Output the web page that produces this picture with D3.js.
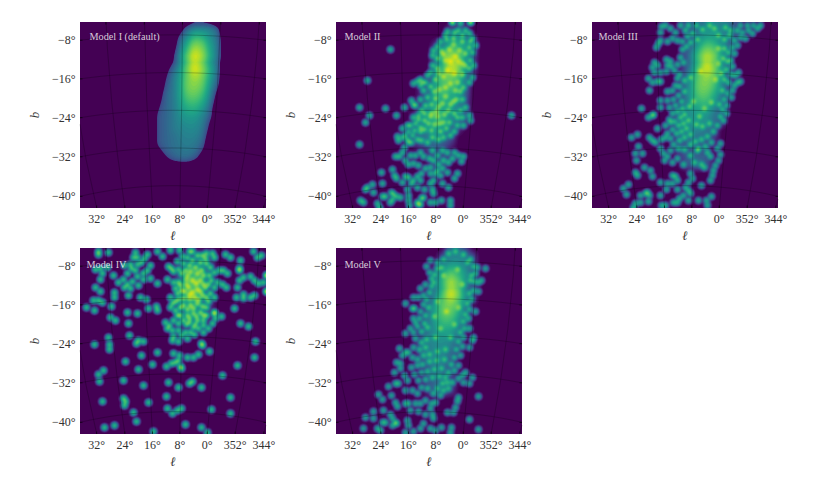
<!DOCTYPE html>
<html lang="en">
<head>
<meta charset="UTF-8">
<title>Models</title>
<style>
  html, body { margin: 0; background: #fff; }
  text { font-family: "Liberation Serif", serif; fill: #333; }
</style>
<script src="https://cdn.jsdelivr.net/npm/d3@7"></script>
</head>
<body>
<svg id="chart" width="821" height="498"></svg>
<script>
// lattice of the smooth part, in counts. columns and rows are degrees off the field centre
const latticeXi = [4.5, 3, 1.5, 0, -1.5, -3, -4.5, -6, -7.5, -9, -10.5];
const latticeEta = [19.5, 18, 16.5, 15, 13.5, 12, 10.5, 9, 7.5, 6, 4.5, 3, 1.5, 0, -1.5, -3, -4.5, -6, -7.5, -9, -10.5];
const coreI = [
  [0,0,0,0,0,.1,.25,.25,.2,.1,0],
  [0,0,0,0,.1,.6,1,1,.9,.6,0],
  [0,0,0,0,.4,1,1.8,1.7,1.1,.7,.1],
  [0,0,0,0,.6,1.5,2.8,2.5,1.4,.8,.1],
  [0,0,0,.1,.8,2,3.8,3.1,1.6,.8,.1],
  [0,0,0,.2,1,2.5,4.6,3.4,1.7,.8,.1],
  [0,0,.1,.4,1.1,2.6,4.7,3.3,1.7,.8,0],
  [0,0,.2,.6,1.2,2.5,3.9,3,1.6,.7,0],
  [0,0,.3,.7,1.3,2.6,3.2,2.7,1.4,.6,0],
  [0,0,.4,.7,1.3,2.6,2.9,2.4,1.2,.4,0],
  [0,.1,.5,.7,1.3,2.3,2.5,2,1,.2,0],
  [0,.2,.5,.7,1.2,1.9,2,1.6,.8,.1,0],
  [0,.3,.5,.7,1.1,1.5,1.6,1.2,.6,0,0],
  [.05,.4,.5,.7,1,1.2,1.2,.9,.5,0,0],
  [.05,.4,.5,.7,.9,1,1,.8,.3,0,0],
  [.05,.4,.5,.7,.8,.9,.9,.7,.2,0,0],
  [.05,.4,.5,.6,.75,.8,.8,.6,.1,0,0],
  [.05,.4,.5,.6,.7,.75,.7,.5,0,0,0],
  [0,.2,.45,.55,.65,.7,.6,.3,0,0,0],
  [0,0,.25,.45,.55,.55,.4,.1,0,0,0],
  [0,0,0,.05,.1,.1,0,0,0,0,0]
];
const coreII = [
  [0,0,0,0,0,0,0,0,0,0,0],
  [0,0,0,0,0,0,.3,.4,.3,0,0],
  [0,0,0,0,0,.1,.8,1,.7,.2,0],
  [0,0,0,0,.2,.7,1.4,1.5,1.1,.6,0],
  [0,0,0,0,.6,1.6,2.5,2,1.4,.5,0],
  [0,0,0,0,.7,2,3.8,3,1.3,.4,0],
  [0,0,0,0,.9,1.9,4.3,3.4,1.3,.4,0],
  [0,0,0,.1,1,2,3.2,2.4,1,.2,0],
  [0,.1,.1,.3,1.3,2.3,2.2,1.8,.9,.1,0],
  [0,.1,.2,.6,1.4,2.1,1.9,1.4,.6,.1,0],
  [0,0,.2,.7,1.5,1.8,1.5,1.1,.5,0,0],
  [0,0,.2,.6,1.3,1.4,1.3,1,.4,0,0],
  [0,.1,.5,.9,1.3,1.3,1.1,.8,.4,0,0],
  [0,.2,.8,1.1,1.9,1.4,1,.6,.4,.1,0],
  [.1,.4,.8,1,1.5,1.1,.8,.5,.2,0,0],
  [.1,.4,.6,.9,1.1,.9,.5,.2,.1,0,0],
  [.1,.4,.5,.8,.9,.6,.4,.1,0,0,0],
  [0,.2,.4,.5,.6,.4,.2,.1,0,0,0],
  [0,0,.1,.2,.2,.2,.1,.1,0,0,0],
  [0,0,.1,.2,.2,.3,.2,.1,0,0,0],
  [0,0,.1,.1,.2,.2,.1,0,0,0,0]
];
const coreIII = [
  [0,.1,.2,.3,.3,.5,.8,.9,.8,.7,.4],
  [0,.1,.2,.3,.4,.7,1,1.1,.9,.7,.4],
  [0,.1,.1,.2,.4,.9,1.3,1.3,.9,.6,.3],
  [0,0,.1,.2,.5,1.3,2,1.8,1.1,.6,.2],
  [0,0,.1,.3,.8,1.9,3,2.5,1.3,.5,.2],
  [0,0,.1,.3,1,2.3,4,3,1.4,.5,.1],
  [0,0,.1,.3,1,2.4,4.6,3.1,1.4,.4,.1],
  [0,0,.1,.4,1.1,2.4,3.5,2.7,1.3,.4,.1],
  [0,.1,.2,.6,1.3,2.6,3,2.3,1.1,.3,.1],
  [0,.1,.2,.6,1.4,2.6,2.7,2,1,.3,0],
  [0,0,.2,.6,1.4,2.3,2.3,1.6,.8,.2,0],
  [0,0,.2,.6,1.3,1.8,1.9,1.2,.6,.1,0],
  [0,.1,.3,.7,1.1,1.4,1.4,.9,.4,.1,0],
  [.1,.2,.5,.8,1.1,1.2,1.1,.7,.3,.1,0],
  [.1,.2,.5,.8,1,1,.9,.6,.3,.1,0],
  [.1,.2,.4,.7,.9,.9,.7,.4,.2,0,0],
  [.1,.2,.4,.6,.7,.6,.5,.3,.1,0,0],
  [.1,.1,.3,.4,.5,.4,.3,.2,.1,0,0],
  [0,.1,.3,.4,.3,.3,.3,.1,0,0,0],
  [0,.1,.2,.4,.5,.5,.4,.1,0,0,0],
  [0,0,.1,.3,.5,.6,.4,.1,0,0,0]
];
const coreIV = [
  [0,0,0,0,0,0,0,0,0,0,0],
  [0,0,0,0,0,.1,.4,.5,.4,0,0],
  [0,0,0,0,.1,.4,.7,.6,.4,0,0],
  [0,0,0,0,.2,1,1.4,1.1,.5,0,0],
  [0,0,0,.1,.5,1.3,2,1.2,.4,0,0],
  [0,0,0,.1,.5,1.4,2.4,1.2,.4,.1,0],
  [0,0,0,.1,.6,1.6,2.4,1,.4,.1,0],
  [0,0,0,.1,.5,1.2,1.3,.7,.4,.1,0],
  [0,0,0,.1,.5,.8,1,.6,.2,0,0],
  [0,0,0,.1,.4,.6,.6,.5,.2,0,0],
  [0,0,0,0,.2,.4,.4,.4,.1,0,0]
];
const coreV = [
  [0,0,0,0,0,.2,.6,.6,.3,0,0],
  [0,0,0,0,0,.4,.8,.9,.7,.4,0],
  [0,0,0,0,.2,.7,1.1,1.1,.8,.4,0],
  [0,0,0,.1,.5,1.2,1.9,1.6,1.1,.5,0],
  [0,0,0,.1,.7,1.7,2.9,2.1,1.2,.5,0],
  [0,0,0,.2,.9,2,3.7,2.7,1.2,.3,0],
  [0,0,0,.3,1,2.2,4.5,3,1.1,.3,0],
  [0,0,.1,.4,1.1,2.3,3.5,2.4,1,.3,0],
  [0,0,.2,.6,1.5,2.5,2.7,1.9,.8,.1,0],
  [0,0,.2,.7,1.5,2.4,2.4,1.6,.6,.1,0],
  [0,.1,.3,.7,1.4,2,1.9,1.2,.4,0,0],
  [0,.1,.3,.7,1.2,1.5,1.5,.9,.3,0,0],
  [0,.1,.4,.8,1.1,1.2,1.1,.7,.1,0,0],
  [.1,.2,.4,.8,1,1,.9,.4,.1,0,0],
  [.1,.2,.5,.8,.9,.9,.7,.3,.1,0,0],
  [.1,.2,.4,.7,.9,.8,.5,.2,.1,0,0],
  [.1,.2,.3,.6,.8,.7,.4,.2,.1,0,0],
  [0,.1,.2,.5,.6,.5,.3,.2,.1,0,0],
  [0,.1,.2,.4,.5,.5,.3,.1,0,0,0],
  [0,.1,.2,.4,.6,.6,.4,.1,0,0,0],
  [0,.1,.2,.3,.5,.5,.3,.1,0,0,0]
];

// single sources, [xi, eta] in degrees off the field centre
const pointsII = [[8.3,13.9],[13.2,7.5],[14.9,1.8],[9.3,1.4],[5.2,1.6],[12.8,.1],[13.6,-1.5],[6.9,.1],[14.8,-6.1],[-17.3,.1],[3.9,3.2],[3.5,2.3],[3,2.1],[3.3,6.7],[2.6,7.3],[1.9,7.6],[1.4,7.1],[5.8,-2.8],[6.7,-4.5],[6.5,-5.3],[5.4,-6.7],[5.8,-7.8],[7.2,-8.8],[6.4,-8.8],[10.2,-12.1],[7.8,-11.4],[7.4,-12.7],[6.9,-13.4],[13.6,-15.8],[13.2,-15.2],[12,-14.7],[11.8,-16.3],[9.9,-14.5],[14.6,-18],[13.9,-18.5],[10,-17.1],[9.3,-17.1],[11.1,-18.6],[10.6,-19.5],[8.1,-16.3],[7.6,-16.8],[7.1,-17.2],[8.3,-18.4],[7.8,-17.9],[6.2,-17.5],[5.7,-14.2],[5.1,-13],[4.4,-13.1],[3.8,-14.4],[4.7,-15.6],[4.5,-18],[4.2,-19.1],[2.6,-18.4],[1.6,-17.7],[1.9,-18.8],[2.6,-12.9],[-4.8,19.8],[-6.6,19.5],[-8.7,19.8],[-3.8,17.9],[-5.2,17.7],[-6.2,18],[-7.6,18],[-8.4,17.3],[-3.4,17],[-6.9,17],[-9.1,16.3],[-9.8,14.9],[-8.8,15.6],[-2.3,15.6],[-1.6,14.6],[-.9,13.8],[-.6,12.7],[-9.1,13.4],[-8.7,11.7],[-8.4,14.5],[-7.6,13.1],[-9.4,10.6],[-8.4,9.9],[-9.1,8.1],[-8.4,7.1],[-.6,10.6],[-.2,9.2],[.5,8.5],[.8,7.1],[1.9,6.4],[1.2,5.3],[.5,3.9],[.8,2.1],[1.6,1.1],[2.3,0],[3.3,-.4],[3,-1.8],[4,-2.1],[4.4,-3.5],[3.7,-4.2],[4.7,-5],[3.8,-5.7],[2.6,-5],[1.6,-5.3],[.5,-5.7],[1.9,-3.5],[-.6,-4.6],[-2,-5],[-3,-4.6],[-4.5,-4.2],[-5.2,-3.5],[-5.9,-2.1],[-6.9,-.4],[-8.4,0],[-8.7,-1.1],[-7.3,-2.1],[-6.6,1.1],[-7.6,1.8],[-6.9,3.5],[-6.6,5],[-7.3,6],[-.6,-7.4],[-1.6,-8.5],[-2.7,-7.4],[-3.8,-7.8],[-5.2,-7.8],[-6.2,-8.5],[-7.3,-8.8],[-6.8,-9.7],[-4.8,-9.2],[-4.1,-9.9],[-3,-9.6],[-2,-10.3],[-.9,-9.6],[.1,-9.2],[1.2,-8.8],[1.9,-7.8],[3,-8.5],[4,-8.5],[5.1,-9.6],[4.4,-10.3],[3.3,-10.1],[2.3,-10.6],[.8,-11.3],[-.2,-11],[-1.6,-11.7],[-2.7,-11.3],[-3.8,-12],[-2.3,-12.7],[-1.3,-12.4],[-.2,-12.4],[1.6,-12.4],[3.3,-13.8],[-.9,-13.8],[-.2,-14.5],[-.6,-15.6],[-.9,-16.6],[1,-15.6],[2.6,-15.2],[1.9,-13.8],[-2.7,-14.5],[-4.1,-15.2],[-5.2,-13.4],[-5.9,-12.4],[1.2,-17.3],[-.2,-18.4],[-1.3,-18.4],[-2.5,-18],[-4.5,-18],[-4.5,-19.1],[2.3,-18.8],[4.4,-17],[1.9,3.5],[4.7,-2.1],[5.1,-4.2],[5.8,-4.6],[4.4,-5.7],[-3,13],[-5,15],[-7,11],[-2,9],[-6,7],[-3.5,6],[-1,5],[-5,3],[-2,2],[-4,1],[-1,-2],[-3,-1.5],[-.5,0.5],[1,-1],[2,-2.5],[-6,-0.5],[-4.5,11.5],[-3.8,9.6],[-5.5,12.5],[-3.6,16.1],[-5.1,16.4],[-7,15.6],[-2.6,13.6],[-4.2,14],[-6.3,13.8],[-1.7,12],[-3.3,11.7],[-6.2,11.4],[-7.7,10.6],[-1.6,10],[-2.9,8.2],[-5.3,8.9],[-7,8.6],[-1.3,7.6],[-4.4,6.8],[-5.6,5.4],[-2.2,5.6],[-.2,6.2],[-3.4,4.1],[-1.2,3.6],[-5.8,3.4],[-.4,2.3],[-2.8,2.6],[-4.4,2.3],[-3.2,.3],[-1.4,.9],[-.2,-.2],[-1.8,-.3],[-5.2,.4],[1,.4],[.2,-1.7],[-2.1,-1.6],[-4.2,-1.4],[1,-2.9],[-.5,-3.2],[-2.4,-3.3],[-3.6,-2.8],[3.2,-3.1],[2.4,-.8]];
const pointsIII = [[5.3,17.7],[5.3,15.9],[5.7,15.2],[6.2,14.4],[5,18.8],[4.2,19.1],[3.2,18.4],[2.1,17.7],[2.8,16.3],[3.9,15.6],[1.8,15.9],[1.1,19.1],[0,18],[-.7,19.1],[.7,15.6],[6.6,11.3],[6,10.6],[6.9,10.1],[6.5,9.1],[5.4,9.1],[4,11.8],[3.2,11.5],[3.8,10.6],[3,10.3],[4,9.3],[7.8,7.8],[7.1,7.1],[6,7.3],[5.4,7.2],[7.6,5.4],[3.9,5],[2.8,5.3],[2.1,6.4],[1.8,7.8],[1.2,8.8],[9.3,1.4],[6.7,.2],[7.8,-.5],[7.1,0],[5.2,1.6],[3.9,3.2],[3.5,1.8],[2.8,.4],[2.1,2.1],[5.3,3.2],[4.2,-2.1],[5.9,-2.8],[3.2,-1.4],[3.9,-3.9],[5,-5],[4.2,-4.6],[7.6,-4.7],[7.1,-5.4],[6.4,-5.7],[5.3,-6.9],[4.6,-8.1],[4.5,-9.6],[3.9,-8.8],[2.8,-9.9],[1.8,-9.2],[11.5,-4.7],[10.1,-4.1],[9.9,-6.6],[10.6,-8.1],[9.2,-8],[10.4,-9.6],[10.6,-12],[10.1,-12.7],[8.7,-11],[7.4,-11.7],[7.1,-12.9],[5.4,-14.2],[2.8,-12.7],[2.1,-12.9],[1.8,-13.8],[-1,-12.4],[-1.4,-13.4],[-.7,-14.2],[0,-15.2],[-.7,-15.9],[1.8,-15.6],[.4,-17],[-1,-16.6],[-3.5,-14.9],[-5.5,-17.1],[-4.4,-18],[-4.7,-19.1],[-2.8,-18],[-.7,-18],[2.5,-18.5],[1.6,-18.5],[1.2,-17.7],[5,-19.1],[4.2,-19.1],[3.9,-14.5],[4,-15.6],[13.1,-15.4],[12,-14.6],[12.5,-16.8],[9.6,-17],[8.5,-16.6],[8,-16.3],[7.6,-17],[7.8,-18.2],[9.6,-18.4],[10.6,-18.6],[11.1,-19.5],[5.3,-17],[2.8,-14.5],[-7.4,-5.9],[-6.7,-7.1],[-7.4,-8.3],[-7.1,-9.6],[-6.4,-10.6],[-6,-11.7],[-5.4,-13.7],[-5.7,-12.7],[-4.6,-7.8],[-5.3,-8.8],[-11.7,7.3],[-11,7.1],[-10.4,6.4],[-9.9,5.3],[-11.3,9.2],[-10.6,8.5],[-9.7,3.9],[-8.7,2.1],[-8.8,.4],[-8.1,-1.1],[-9.6,11.7],[-10.3,13.1],[-11,14.9],[-11.7,16.6],[-12.7,16.3],[-12,17.7],[-13.4,18],[-14.2,17.3],[-15.2,18.4],[-15.9,19.1],[-14.5,19.1],[-13.1,19.1],[-11.7,19.1],[-11,18],[-10.3,15.9],[-9.9,14.5],[-2,-10],[-3.5,-10.5],[-1,-8.5],[-2.5,-7.5],[-4,-11],[.5,-10.5],[2.4,9.6],[1.6,10.9],[1,12.4],[.6,13.9],[-.2,14.7],[.4,11.2],[1.2,6.1],[.3,7.4],[2.6,3.4],[1.4,4.2],[.2,5.1],[.9,2.9],[1.8,.8],[.6,1.4],[3.4,-.8],[2.3,-1.2],[1.1,-.4],[.2,.3],[2.7,-2.9],[1.4,-2.2],[.4,-1.6],[3.1,-4.8],[2,-3.9],[.9,-3.3],[-.2,-2.8],[2.6,-6.2],[1.3,-5.4],[.2,-4.7],[-1.1,-4.1],[3.1,-7.4],[1.5,-6.9],[.3,-7.2],[-1,-6.1],[-2.2,-5.6],[-3.4,-5],[-4.6,-4.4],[-5.6,-5.8],[-4.2,-6.5],[-2.8,-6.9],[-5.9,-3.4],[-6.8,-2.1],[-7.5,-.2],[-7.9,1.2],[-5,-1.6],[-3.7,-2.4],[-2.3,-1.9],[-8.3,3.3],[-7.2,2.4],[-8.9,4.6],[-7.8,5.3],[-9.2,6.9],[-8.2,7.7],[-9.7,8.6],[-8.8,9.7],[-7.7,9],[-9.9,10.4],[-8.9,11.4],[-8,12.2],[-9.1,13.3],[-8.2,14.3],[-9.3,16.9],[-8.3,16.2],[-7.1,17],[-6.2,18.4],[-8.4,18.7],[-9.6,18.1],[-5,19.2],[-3.6,18.2],[-2.4,19],[-1.4,17.4],[-2.6,16.2],[-1.1,15.4],[-.4,16.7],[-7,14.2],[-6.3,7.6],[-7.1,11],[-3.1,9.3],[-1.1,8],[-1.7,3],[-4,1.5],[-5.6,2.8],[-3,-.3],[-.7,-1],[-.9,2]];
const pointsIV = [[16,19],[15.9,18.5],[13.7,18.8],[15.5,15.4],[16.6,15.3],[14.1,15.6],[15.1,14.4],[15.5,13.1],[16.6,11.5],[15.5,10.6],[12.5,10.5],[12.5,9.4],[9.5,9.8],[16.9,8.6],[16,8.6],[15,8.2],[18.5,7.3],[16.8,6.5],[13.2,7.4],[9.7,6.2],[7.7,5.9],[13.4,5],[12.3,4.5],[9.5,3.8],[7,9.4],[5.7,8.9],[5.4,6.9],[3.6,7.5],[3.5,6.6],[8.1,18.8],[8.4,17.9],[7.6,17.8],[5.6,18.4],[6.1,17.6],[6.7,16.8],[7.7,16.3],[9.1,16.3],[10.4,16.1],[9,15.4],[9.7,14.4],[8.1,15.1],[4.9,16.1],[5.6,15.1],[6.4,14.4],[7.6,13.7],[6.3,13.1],[4.9,13.3],[3.3,12.4],[12.7,14],[11.6,12.6],[10.7,13.1],[9.7,12.2],[8.8,12.8],[9.1,11.2],[10.4,11.5],[7.4,11.9],[3.3,19],[2.4,18],[.6,19.3],[1,15.9],[.5,15.4],[-1.3,19.3],[-11,18.4],[-12.2,17.9],[-17,19],[-17.8,17.9],[-18.6,18.3],[-14.2,17.2],[-14.1,15.4],[-13.9,15.1],[-10.7,15.1],[-9.8,15.1],[-11.4,14.4],[-10.3,12.2],[-11.3,11.5],[-13.5,11.4],[-14.1,13],[-14.9,13.5],[-16.3,13.8],[-17.2,13],[-18.1,12.4],[-19.2,12.6],[-19.7,14],[-19.7,10.6],[-14.9,10],[-14.8,9.1],[-13.4,9.4],[-16.3,9.3],[-17.2,9.8],[-13,6.9],[-10.1,5.3],[-8.6,5.9],[-14.2,3.9],[-16,3.2],[-3.3,19],[-4,19],[-5,18.3],[-6.1,18.3],[-7.1,18.6],[-8.2,18.6],[-8.6,17.9],[-6.8,17.6],[-5.7,16.8],[-7.1,16.5],[-7.9,15.8],[-8.6,14.7],[-7.7,14],[-9.3,12.6],[-8.6,11.5],[-7.5,12.2],[-7.9,10.1],[-8.6,9.4],[-7.5,8.4],[-7.1,7.3],[-8.6,6.2],[-9,4.8],[-8.2,3.8],[-7.5,2.7],[-6.4,2],[-5.4,2.7],[-4.3,3],[-3.6,2],[-2.9,.6],[-1.8,1.3],[-1.1,-.1],[.3,.2],[1.3,2.7],[.3,2.3],[1.6,4.1],[-.1,4.5],[-1.1,3.8],[-2.2,4.5],[-3.3,4.1],[-5,4.5],[-6.4,4.5],[-7.1,5.5],[-5.7,6.2],[-4.3,5.9],[-2.9,5.5],[-1.5,5.5],[-.4,6.6],[.6,7.3],[-.4,8.4],[.6,9.4],[-.8,10.1],[-1.8,10.8],[1.2,13.1],[-.1,12.6],[-1.1,12.6],[-1.8,14.4],[-2.5,15.1],[-3.3,16.1],[-2.2,7.6],[-3.6,7.6],[-5,8],[-6.1,9.8],[-6.8,11.5],[-5.7,13],[-4,17.2],[-5,14.4],[-2.7,12],[-4,13],[-3.3,10],[-5,11],[-4.5,9.3],[-3,14],[-2.2,9.2],[-6,15],[0,-2.5],[-1.3,-3],[-2.9,-3.3],[-4.2,-3.3],[-5.4,-2.8],[-6.1,-.8],[-5.9,-.5],[-7.7,-2.1],[-1.1,-4],[-.4,-4.4],[.5,-4.7],[1.5,-5.3],[-1.5,-5.3],[-1.6,-5.8],[-10.3,-7.2],[-13.5,-5.1],[-17.2,-3.5],[-17.3,0],[-4,-8.4],[-3.5,-9],[1.1,-8.6],[-1,-9.7],[-5.9,-9.8],[1.4,-11.7],[-12,-11.8],[1.3,-14.2],[.2,-15.2],[-.8,-14.6],[-1.8,-14.2],[-8.1,-14.4],[-12,-15.3],[-2.5,-17.6],[-5.9,-18.3],[-7.3,-19.4],[4.3,-19.2],[16.8,-.6],[13.8,.9],[13.5,-.7],[13.5,-1.6],[10.2,-4.2],[9.3,1.3],[7.9,-.5],[7.4,.2],[6.4,.1],[6.8,-3],[3.3,-2.4],[4.5,-4.9],[7.4,-5.9],[14.8,-6.2],[16,-6.9],[15.7,-8.4],[10.7,-8.3],[6.4,-9.3],[15.1,-12.7],[10.7,-12.2],[10.2,-12.7],[10.5,-13.6],[5.4,-12.9],[8.5,-15],[7.9,-17],[14.7,-18.2],[12.5,-17.8],[-3,17.8],[-1.9,18],[-.9,16.9],[-2.2,16.6],[-4.6,15.8],[-6.4,14],[-3.6,14.9],[-1,15.2],[-.1,14.8],[-2.8,13.2],[-4.8,12.4],[-6.4,12],[-.5,11.2],[-1.4,11.8],[-3.1,11.4],[-5.8,10.7],[-7,9.3],[-2.4,10.6],[-4.1,10.3],[-3.4,9.1],[-5.4,9],[-1,9],[.3,8.1],[-1.4,7.2],[-2.9,6.7],[-4.2,7.1],[-6.2,7.5],[-.8,5.6],[-6.3,5.5],[-4.9,5.2],[-2.7,3.6],[-4.7,3.6],[-6.3,3.4],[-1,2.3],[-2.6,1.9],[-4.5,1.5],[-.1,1.1],[.9,3.5],[-3.5,4.9],[-8,13]];
const pointsV = [[.7,16],[-.2,17.2],[-1.6,16.8],[0,14.6],[-.4,13.3],[.8,12.2],[1.9,11.2],[3.5,9.4],[5.1,8],[2.3,9.4],[1.2,9.8],[3.7,6.9],[3.1,6.9],[3.5,4.8],[3,4.1],[4,2.7],[5.1,1.6],[3.3,2],[6.4,-1.4],[5.8,-3],[5.1,-2.3],[4.4,-2.3],[6.9,-4.4],[6.2,-4.6],[7.4,-6.5],[6.2,-5.8],[5.4,-7.2],[4.7,-8.3],[7.2,-9],[6.5,-9],[8.6,-9.5],[5.1,-10.4],[3.7,-10.4],[2.6,-11],[1.6,-9.7],[10.8,-11.3],[9.9,-12.4],[8.1,-11.5],[7.2,-12.9],[6.7,-13.8],[5.1,-13.2],[4.4,-13.2],[3,-13.2],[1.9,-13.2],[.8,-12.5],[-.4,-13.2],[-1.3,-12.9],[-.2,-14.3],[-.6,-15.4],[-.9,-16.4],[.8,-15.4],[2.3,-14.8],[4,-14.6],[-3.8,-15.1],[11.8,-14.8],[9.8,-14.6],[13.6,-16.1],[13.9,-18.5],[11.8,-16.3],[10,-17.2],[9.3,-17.1],[11.1,-18.5],[10.4,-18.9],[7.9,-16.4],[7.2,-17.1],[7.8,-17.8],[6.9,-17.5],[8.3,-15.4],[4.7,-16.8],[4.5,-17.8],[5,-19.3],[3.3,-19],[1.9,-18.5],[1.2,-17.5],[-.2,-18.5],[-1.3,-18.8],[-2.5,-18.2],[-4.5,-19.3],[-4.6,-18.2],[-8.4,-16.6],[-10.5,-18.7],[-10.3,-11.7],[-6.2,-11.8],[-5.9,-12.7],[-5.5,-13.9],[-5,-15],[-4.8,-8.6],[-3.8,-8.6],[-2.7,-9],[-1.6,-10],[-3,-10.4],[-4.1,-10],[-2.3,-11.5],[-.9,-11.1],[.5,-10],[-7.6,-6.5],[-6.9,-7.2],[-9.1,-7.6],[-7.3,-8.6],[-8.4,-9],[-6.2,-7.9],[-11.9,15.4],[-11,13],[-10.3,12.5],[-10.5,10.7],[-9.8,6.4],[-9.4,.9],[-8.4,-1.2],[-9.1,.2],[-8.4,2.7],[-9.8,14.4],[-10.1,15.8],[-7.2,18.4],[-5.6,19],[-4,18.6],[-3,17.5],[-8.6,17.3],[-9.3,16],[-8,16.7],[-1.8,15.4],[-1,14.3],[-2.6,15.7],[-9,14],[-9.6,12.8],[-8.6,12.9],[-.4,11.7],[-9.4,10.8],[-8.5,10.2],[-.9,12.6],[0,10.4],[.6,9],[-9,8.9],[-8.1,8],[1.2,7.9],[.3,7.2],[-8.5,6.8],[-7.6,5.8],[1.9,6.4],[.9,5.6],[-8.2,4.9],[-7.2,4.2],[2.2,4.9],[1.1,3.8],[-7.5,2.8],[-6.5,2],[2.6,3.1],[1.6,2.1],[.4,3],[-7.2,.8],[-6.1,.1],[2.9,.6],[1.8,-.2],[.7,.4],[-7,-1.1],[-5.8,-1.6],[3.3,-1.3],[2.1,-1.8],[.9,-1.2],[-6.6,-3],[-5.2,-3.4],[3.6,-3.5],[2.5,-3.9],[1.2,-3],[-.1,-2.8],[-6.2,-5],[-4.6,-4.8],[3.8,-5.6],[2.6,-5],[1.4,-4.9],[.1,-4.3],[-1.4,-4],[-3.2,-3.9],[3.2,-6.9],[1.8,-6.6],[.5,-6.4],[-1,-6],[-2.6,-5.8],[-4.1,-6.5],[-5.4,-6.2],[2.4,-8.2],[.9,-8],[-.6,-7.7],[-2.1,-7.4],[-3.4,-7.6],[-1.6,-2.2],[-3.4,-1.6],[-1.3,.8],[-4.5,.9],[-2.4,2.7],[-5.4,3.6],[-1.1,5.2],[-3.6,6.4],[-6.2,7.2],[-1.6,8.4],[-7,12],[-6,15.2],[-3,14]];

const lonTicks = [32, 24, 16, 8, 0, 352, 344];
const latTicks = [-8, -16, -24, -32, -40];
const labels = ["Model I (default)", "Model II", "Model III", "Model IV", "Model V"];
const panelX = [80, 336, 592, 80, 336];
const panelY = [22, 22, 22, 248, 248];
const labelDx = [9.5, 8.5, 6.5, 6.5, 8.5];
const labelDy = [18, 18, 18, 20, 20];
const floorTone = [0.22, 0.02, 0.02, 0.02, 0.02]; // model I has a hard edge
const coreCut = [0, 0.15, 0.25, 0.15, 0.25]; // thin lattice values are left to the single sources
const pointCount = [1, 1.25, 1.15, 1.6, 1.1]; // peak of one source

const size = 186;
const scaleDeg = 270 * Math.PI / 180; // px per degree
const svg = d3.select("#chart");

const projection = d3.geoAzimuthalEquidistant()
  .rotate([-10, 25]).reflectX(true).scale(270).translate([size / 2, size / 2]).clipExtent([[0, 0], [size, size]]);
const path = d3.geoPath(projection);
const noClip = d3.geoAzimuthalEquidistant().rotate([-10, 25]).reflectX(true).scale(270).translate([size / 2, size / 2]);

const xScale = d3.scaleLinear().domain([0, 1]).range([size / 2, size / 2 - scaleDeg]);
const yScale = d3.scaleLinear().domain([0, 1]).range([size / 2, size / 2 - scaleDeg]);
const toneScale = d3.scaleLog().domain([1, 16]).range([0, 1]);
const colorScale = d3.scaleSequential(d3.interpolateViridis).domain([0, 1]);

function impulsePeak(r) {
  const n = 41, g = new Float64Array(n * n);
  g[20 * n + 20] = 1;
  d3.blur2({data: g, width: n, height: n}, r);
  return d3.max(g);
}

function density(core, points, k) {
  const n = size + 1;
  const a = new Float64Array(n * n), b = new Float64Array(n * n);
  const cell = 1.5 * scaleDeg;
  core.forEach((row, j) => row.forEach((u, i) => {
    const px = Math.round(xScale(latticeXi[i])), py = Math.round(yScale(latticeEta[j]));
    if (u > coreCut[k] && px >= 0 && px < n && py >= 0 && py < n) a[py * n + px] += u * cell * cell;
  }));
  d3.blur2({data: a, width: n, height: n}, 3);
  const pk = impulsePeak(1.3);
  points.forEach(p => {
    const px = Math.round(xScale(p[0])), py = Math.round(yScale(p[1]));
    if (px >= 0 && px < n && py >= 0 && py < n) b[py * n + px] += pointCount[k] / pk;
  });
  d3.blur2({data: b, width: n, height: n}, 1.3);
  return a.map((v, i) => v + b[i]);
}

function drawPanel(k, core, points) {
  const g = svg.append("g").attr("transform", `translate(${panelX[k]},${panelY[k]})`);
  const clipId = "clip" + k;
  g.append("clipPath").attr("id", clipId).append("rect").attr("width", size).attr("height", size);
  g.append("rect").attr("width", size).attr("height", size).attr("fill", "#440154");
  const levels = d3.range(floorTone[k], 1.001, 0.02).map(v => (Math.pow(16, v) - 1) / 3);
  const contours = d3.contours().size([size + 1, size + 1]).thresholds(levels)(density(core, points, k));
  g.append("g").attr("clip-path", `url(#${clipId})`).selectAll("path")
    .data(contours.filter(c => c.coordinates.length)).join("path")
    .attr("d", d3.geoPath())
    .attr("fill", d => colorScale(toneScale(1 + 3 * d.value)));

  const graticule = d3.geoGraticule().extent([[-60, -89], [80, 20]]).step([8, 8]).precision(1);
  g.append("path").datum(graticule()).attr("d", path)
    .attr("fill", "none").attr("stroke", "#000").attr("stroke-opacity", 0.45).attr("stroke-width", 0.5);

  // ticks where the grid lines meet the frame
  const tickLen = 2.5;
  lonTicks.forEach(l => {
    let bot = null, top = null, prev = null;
    for (let b = -70; b < 15; b += 0.05) {
      const p = noClip([l, b]);
      if (prev) {
        if (prev[1] > size && p[1] <= size) bot = p;
        if (prev[1] > 0 && p[1] <= 0) top = p;
      }
      prev = p;
    }
    if (bot) {
      g.append("line").attr("x1", bot[0]).attr("x2", bot[0]).attr("y1", size - tickLen).attr("y2", size).attr("stroke", "#000").attr("stroke-width", 0.6);
      g.append("text").attr("x", bot[0]).attr("y", size + 15).attr("text-anchor", "middle").attr("font-size", 12)
        .text(l + "°");
    }
    if (top && top[0] > 0 && top[0] < size) g.append("line").attr("x1", top[0]).attr("x2", top[0]).attr("y1", 0).attr("y2", tickLen).attr("stroke", "#000").attr("stroke-width", 0.6);
  });
  latTicks.forEach(b => {
    let lft = null, rgt = null, prev = null;
    for (let l = 60; l > -60; l -= 0.05) {
      const p = noClip([l, b]);
      if (prev) {
        if (prev[0] < 0 && p[0] >= 0) lft = p;
        if (prev[0] < size && p[0] >= size) rgt = p;
      }
      prev = p;
    }
    if (lft) {
      g.append("line").attr("x1", 0).attr("x2", tickLen).attr("y1", lft[1]).attr("y2", lft[1]).attr("stroke", "#000").attr("stroke-width", 0.6);
      g.append("text").attr("x", -4.5).attr("y", lft[1] + 4).attr("text-anchor", "end").attr("font-size", 12)
        .text("\u2212" + Math.abs(b) + "°");
    }
    if (rgt) g.append("line").attr("x1", size - tickLen).attr("x2", size).attr("y1", rgt[1]).attr("y2", rgt[1]).attr("stroke", "#000").attr("stroke-width", 0.6);
  });

  g.append("text").attr("x", labelDx[k]).attr("y", labelDy[k]).attr("font-size", 10.2)
    .style("fill", "#fff").style("fill-opacity", 0.8).text(labels[k]);
  g.append("text").attr("x", size / 2).attr("y", size + 32).attr("text-anchor", "middle").attr("font-size", 13)
    .attr("font-style", "italic").text("\u2113");
  g.append("text").attr("transform", `translate(-41,${size / 2}) rotate(-90)`).attr("text-anchor", "middle").attr("font-size", 13)
    .attr("font-style", "italic").text("b");
}

drawPanel(0, coreI, []);
drawPanel(1, coreII, pointsII);
drawPanel(2, coreIII, pointsIII);
drawPanel(3, coreIV, pointsIV);
drawPanel(4, coreV, pointsV);
</script>
</body>
</html>
